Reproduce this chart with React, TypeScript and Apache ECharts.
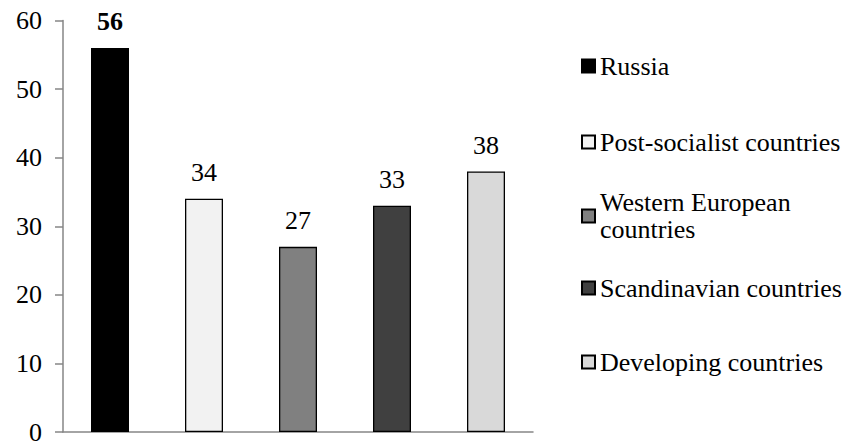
import React, { useEffect, useRef } from "react";
import * as echarts from "echarts";

const categories = [
  "Russia",
  "Post-socialist countries",
  "Western European countries",
  "Scandinavian countries",
  "Developing countries",
];
const values = [56, 34, 27, 33, 38];
const colors = ["#000000", "#f2f2f2", "#808080", "#404040", "#d9d9d9"];
const legendLabels = [
  "Russia",
  "Post-socialist countries",
  "Western European\ncountries",
  "Scandinavian countries",
  "Developing countries",
];
const yTicks = [0, 10, 20, 30, 40, 50, 60];

const FONT = "Liberation Serif";

export default function App() {
  const ref = useRef<HTMLDivElement>(null);
  useEffect(() => {
    if (!ref.current) return;
    const chart = echarts.init(ref.current, undefined, { renderer: "svg" });
    const legendCenters = [66, 142, 216, 288, 362];
    const LH = 27;
    const legends = categories.map((name, i) => {
      const twoLine = legendLabels[i].includes("\n");
      return {
        orient: "vertical",
        left: 581,
        top: twoLine ? legendCenters[i] - LH * 1.5 : legendCenters[i] - LH / 2,
        padding: 0,
        itemWidth: 13,
        itemHeight: 13,
        icon: "rect",
        selectedMode: false,
        data: [name],
        formatter: () => legendLabels[i],
        textStyle: {
          fontFamily: FONT,
          fontSize: 26,
          color: "#000",
          lineHeight: LH,
          padding: twoLine ? [LH, 0, 0, 0] : 0,
        },
      };
    });
    const series = categories.map((name, i) => ({
      name,
      type: "bar",
      stack: "all",
      barWidth: 38,
      data: values.map((v, j) => (j === i ? v : null)),
      itemStyle: { color: colors[i], borderColor: "#000", borderWidth: 1.3 },
      label: {
        show: true,
        position: "top",
        distance: 13,
        fontFamily: FONT,
        fontSize: 26,
        color: "#000",
        fontWeight: i === 0 ? "bold" : "normal",
      },
    }));
    chart.setOption({
      animation: false,
      backgroundColor: "#fff",
      textStyle: { fontFamily: FONT },
      grid: { left: 63, right: 317, top: 20.5, bottom: 9.5, containLabel: false },
      legend: legends,
      xAxis: {
        type: "category",
        data: categories,
        axisLine: { lineStyle: { color: "#868686", width: 1.5 } },
        axisTick: { show: false },
        axisLabel: { show: false },
      },
      yAxis: {
        type: "value",
        min: yTicks[0],
        max: yTicks[yTicks.length - 1],
        interval: 10,
        axisLine: { show: true, lineStyle: { color: "#868686", width: 1.5 } },
        axisTick: { show: true, length: 8, lineStyle: { color: "#868686", width: 1.5 } },
        axisLabel: { fontFamily: FONT, fontSize: 26, color: "#000", margin: 21 },
        splitLine: { show: false },
      },
      series,
    });
    return () => chart.dispose();
  }, []);
  return (
    <div
      ref={ref}
      style={{ position: "fixed", left: 0, top: 0, width: 850, height: 445 }}
    />
  );
}
